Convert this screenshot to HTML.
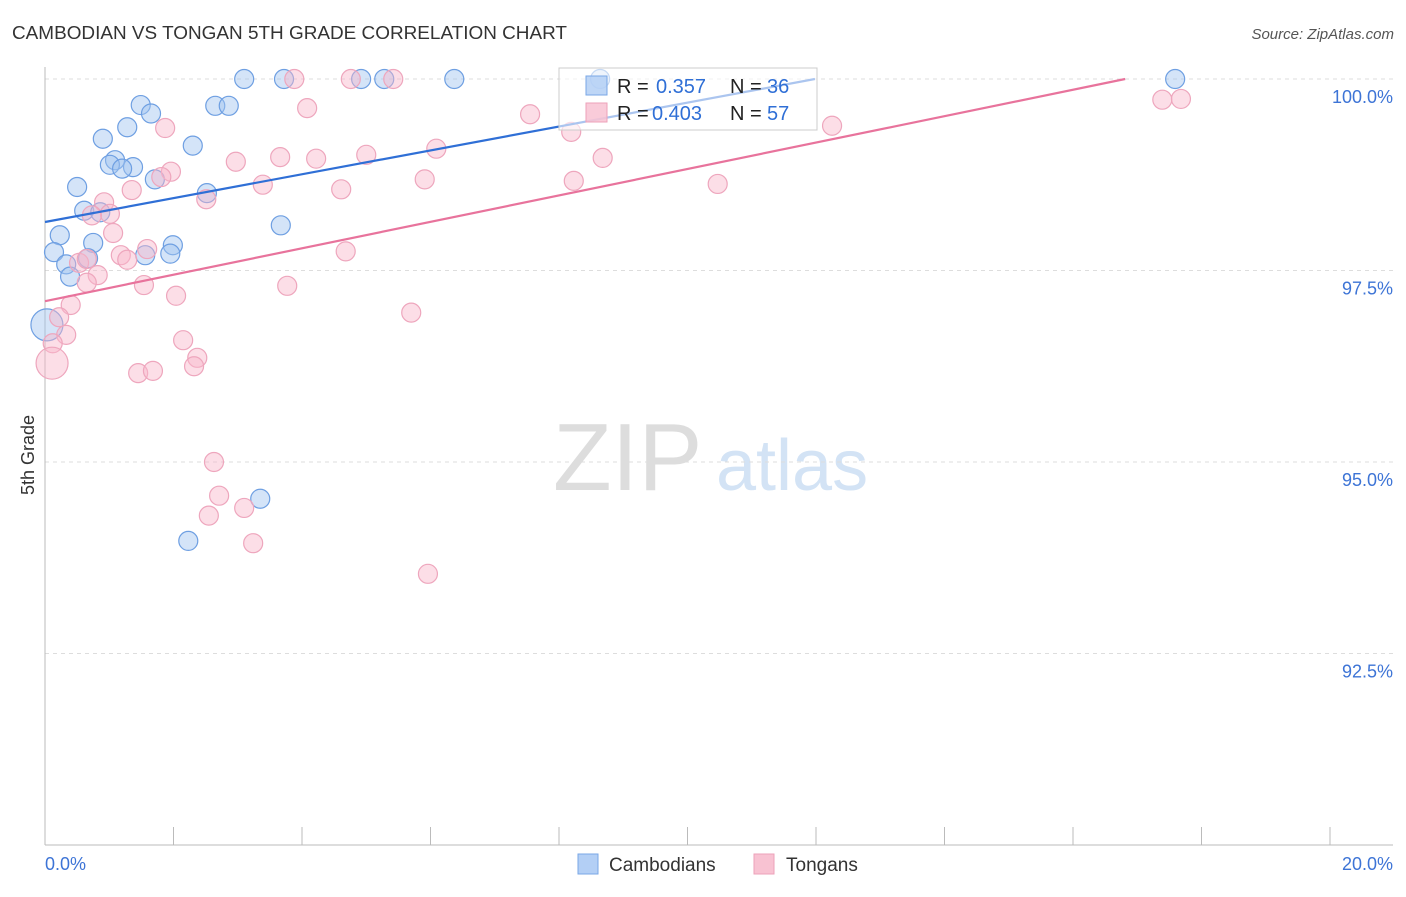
<!DOCTYPE html>
<html><head><meta charset="utf-8"><style>
body{margin:0;background:#fff;font-family:"Liberation Sans",sans-serif;}
svg text{font-family:"Liberation Sans",sans-serif;}
</style></head><body>
<svg id="chart" width="1406" height="892" viewBox="0 0 1406 892" xmlns="http://www.w3.org/2000/svg">
<text x="12" y="39" font-size="18" fill="#333" textLength="555" lengthAdjust="spacingAndGlyphs">CAMBODIAN VS TONGAN 5TH GRADE CORRELATION CHART</text>
<text x="1394" y="39" font-size="15" fill="#555" font-style="italic" text-anchor="end">Source: ZipAtlas.com</text>
<g>
<text x="553" y="490" font-size="96" fill="#ddd" font-family="Liberation Serif">ZIP</text>
<text x="716" y="490" font-size="72" fill="#d3e3f5">atlas</text>
</g>
<g id="grid"></g>
<g id="axes"></g>
<g id="points"></g>
<g id="lines"></g>
<g>
<rect x="559" y="68" width="258" height="62" fill="#fff" fill-opacity="0.6" stroke="#ccc"/>
<rect x="586" y="76" width="21" height="19" fill="#b3cff5" fill-opacity="0.85" stroke="#7aa7e6"/>
<text x="617" y="93" font-size="20" fill="#222">R = </text><text x="656" y="93" font-size="20" fill="#2f6fd6">0.357</text>
<text x="730" y="93" font-size="20" fill="#222">N = </text><text x="767" y="93" font-size="20" fill="#2f6fd6">36</text>
<rect x="586" y="103" width="21" height="19" fill="#f8c2d2" fill-opacity="0.85" stroke="#eda2b9"/>
<text x="617" y="120" font-size="20" fill="#222">R = </text><text x="652" y="120" font-size="20" fill="#2f6fd6">0.403</text>
<text x="730" y="120" font-size="20" fill="#222">N = </text><text x="767" y="120" font-size="20" fill="#2f6fd6">57</text>
</g>
<g>
<rect x="578" y="854" width="20" height="20" fill="#b3cff5" stroke="#7aa7e6"/>
<text x="609" y="871" font-size="19" fill="#333">Cambodians</text>
<rect x="754" y="854" width="20" height="20" fill="#f8c2d2" stroke="#eda2b9"/>
<text x="786" y="871" font-size="19" fill="#333">Tongans</text>
</g>
<text transform="translate(34,455) rotate(-90)" font-size="18" fill="#333" text-anchor="middle">5th Grade</text>
</svg>
<script>
const yTicks=[100,97.5,95,92.5];
const yTickLabels=["100.0%","97.5%","95.0%","92.5%"];
const xEndLabels=["0.0%","20.0%"];
const camX=[3.10,3.72,4.92,5.28,6.37,8.64,17.59,1.49,1.65,2.65,2.86,1.28,0.90,2.30,1.09,1.01,1.37,1.20,1.71,0.50,2.52,0.61,0.86,0.23,0.14,0.75,1.99,3.67,1.56,1.95,0.67,0.33,0.39,3.35,2.23,0.03];
const camY=[100,100,100,100,100,100,100,99.66,99.55,99.65,99.65,99.37,99.22,99.13,98.94,98.88,98.85,98.83,98.69,98.59,98.51,98.28,98.26,97.96,97.74,97.86,97.83,98.09,97.70,97.72,97.66,97.58,97.42,94.52,93.97,96.79];
const tonX=[3.88,4.76,5.42,17.39,17.68,12.25,8.19,8.68,8.23,10.47,7.55,4.08,1.87,2.97,3.66,4.22,5.00,6.09,5.91,4.61,3.39,2.51,1.96,1.81,1.35,0.92,1.01,0.73,1.06,1.18,1.28,1.59,0.53,0.65,0.82,0.65,1.54,2.04,3.77,4.68,5.70,0.40,0.22,0.33,0.12,0.11,2.15,2.37,2.32,1.45,1.68,2.63,2.71,2.55,3.10,3.24,5.96];
const tonY=[100,100,100,99.73,99.74,99.39,99.31,98.97,98.67,98.63,99.54,99.62,99.36,98.92,98.98,98.96,99.01,99.09,98.69,98.56,98.62,98.43,98.79,98.72,98.55,98.39,98.24,98.22,97.99,97.70,97.64,97.78,97.60,97.65,97.44,97.34,97.31,97.17,97.30,97.75,96.95,97.05,96.89,96.66,96.55,96.29,96.59,96.36,96.25,96.16,96.19,95.00,94.56,94.30,94.40,93.94,93.54];
const camIntercept=98.133, camSlope=0.1558;
const tonIntercept=97.10, tonSlope=0.1725;

const NS="http://www.w3.org/2000/svg";
const X0=45,X1=1330,Y100=79,PX_PER_PCT=76.6;
const sx=v=>X0+(v/20)*(X1-X0);
const sy=v=>Y100+(100-v)*PX_PER_PCT;
function mk(tag,attrs,parent){const e=document.createElementNS(NS,tag);for(const k in attrs)e.setAttribute(k,attrs[k]);parent.appendChild(e);return e;}
const grid=document.getElementById('grid'),axes=document.getElementById('axes'),pts=document.getElementById('points'),lines=document.getElementById('lines');
yTicks.forEach((t,i)=>{
 const l=mk('line',{x1:X0,x2:1393,y1:sy(t),y2:sy(t),stroke:'#ddd','stroke-dasharray':'4,4'},grid);
 
 
 const tx=mk('text',{x:1393,y:sy(t)+24,'font-size':18,fill:'#3d74d6','text-anchor':'end'},axes);
 tx.textContent=yTickLabels[i];
 
 
});
const ya=mk('line',{x1:X0,x2:X0,y1:67,y2:845,stroke:'#bbb'},axes);


const xa=mk('line',{x1:X0,x2:1393,y1:845,y2:845,stroke:'#bbb'},axes);


for(let i=0;i<=10;i++){
 const t=mk('line',{x1:sx(i*2),x2:sx(i*2),y1:827,y2:845,stroke:'#bbb'},axes);
 
 
}
const xl0=mk('text',{x:45,y:870,'font-size':18,fill:'#3d74d6'},axes);xl0.textContent=xEndLabels[0];


const xl1=mk('text',{x:1393,y:870,'font-size':18,fill:'#3d74d6','text-anchor':'end'},axes);xl1.textContent=xEndLabels[1];


function drawPts(xs,ys,fill,stroke,name,bigIdx,bigR){
 xs.forEach((x,i)=>{
  const c=mk('circle',{cx:sx(x),cy:sy(ys[i]),r:i===bigIdx?bigR:9.5,fill:fill,stroke:stroke,'stroke-width':1.2},pts);
  
  
 });
}
drawPts(camX,camY,'rgba(160,196,240,0.45)','#6e9fe2','cambodian-point',35,16);
drawPts(tonX,tonY,'rgba(248,182,202,0.45)','#eea6bd','tongan-point',45,16);
function trend(b0,b1,color,name){
 const xEnd=Math.min(20,(100-b0)/b1);
 const l=mk('line',{x1:sx(0),y1:sy(b0),x2:sx(xEnd),y2:sy(b0+b1*xEnd),stroke:color,'stroke-width':2.2},lines);
 
 
}
trend(camIntercept,camSlope,'#2f6fd6','cambodian-trendline');
trend(tonIntercept,tonSlope,'#e8739c','tongan-trendline');
</script>
</body></html>
